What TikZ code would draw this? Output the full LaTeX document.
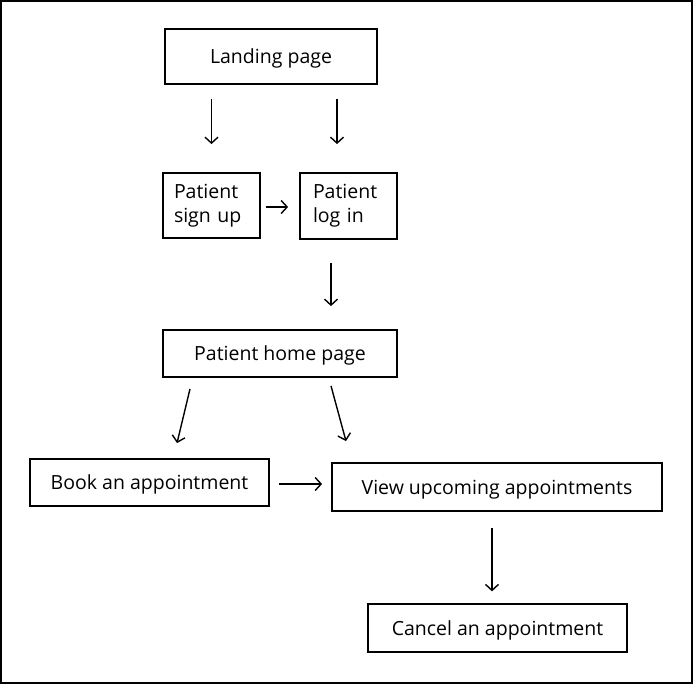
\documentclass[tikz,border=0pt]{standalone}
\usepackage{fontspec}
\setmainfont{Open Sans}
\usetikzlibrary{arrows.meta,positioning,calc}
\tikzset{
    box/.style={rectangle, draw, line width=1.8pt, align=center, font=\fontsize{19.5}{24}\selectfont, inner sep=0pt, text height=18pt, text depth=4pt},
    sbox/.style={rectangle, draw, line width=1.8pt, align=left, font=\fontsize{19.5}{24}\selectfont, inner ysep=0pt, inner xsep=11pt, text width=75pt},
    flow/.style={-{Straight Barb[length=6pt, width=13pt, line width=1.4pt]}, line width=1.4pt},
}

\begin{document}
\begin{tikzpicture}[x=1pt, y=-1pt]
    \useasboundingbox (0,0) rectangle (693,684);
    \draw[line width=1.5pt] (1,1) rectangle (692,683);

    \node[box, minimum width=212pt, minimum height=55pt] (landing) at (271,56.5) {Landing page};
    \node[sbox, minimum width=97pt, minimum height=65pt] (signup) at (211.5,205.5) {Patient\\sign up};
    \node[sbox, minimum width=97pt, minimum height=66pt, inner xsep=13pt, text width=71pt] (login) at (348.5,206) {Patient\\log in};
    \node[box, minimum width=234pt, minimum height=47pt] (home) at (280,353.5) {Patient home page};
    \node[box, minimum width=239pt, minimum height=47pt] (book) at (149.5,482.5) {Book an appointment};
    \node[box, minimum width=330pt, minimum height=48pt] (view) at (497,487) {View upcoming appointments};
    \node[box, minimum width=259pt, minimum height=48pt, line width=1.3pt] (cancel) at (497.5,628) {Cancel an appointment};

    \draw[flow, shorten <=14pt, shorten >=28pt] (landing.south -| signup.north) -- (signup.north);
    \draw[flow, shorten <=14pt, shorten >=28pt] ([xshift=-11.5pt]login.north |- landing.south) -- ([xshift=-11.5pt]login.north);
    \draw[flow, shorten <=5pt, shorten >=11pt] ([yshift=-1.5pt]signup.east) -- ([yshift=-1.5pt]signup.east -| login.west);
    \draw[flow, shorten <=23pt, shorten >=23pt] ([xshift=-17.5pt]login.south) -- ([xshift=-17.5pt]login.south |- home.north);
    \draw[flow] ([xshift=-90pt, yshift=-11pt]home.south) -- ([xshift=27.5pt, yshift=15pt]book.north);
    \draw[flow] ([xshift=51pt, yshift=-8pt]home.south) -- ([xshift=-151pt, yshift=21pt]view.north);
    \draw[flow, shorten <=9pt, shorten >=9pt] ([yshift=-1.5pt]book.east) -- ([yshift=-1.5pt]book.east -| view.west);
    \draw[flow, shorten <=16pt, shorten >=12pt] ([xshift=-5pt]view.south) -- ([xshift=-5pt]view.south |- cancel.north);
\end{tikzpicture}
\end{document}
